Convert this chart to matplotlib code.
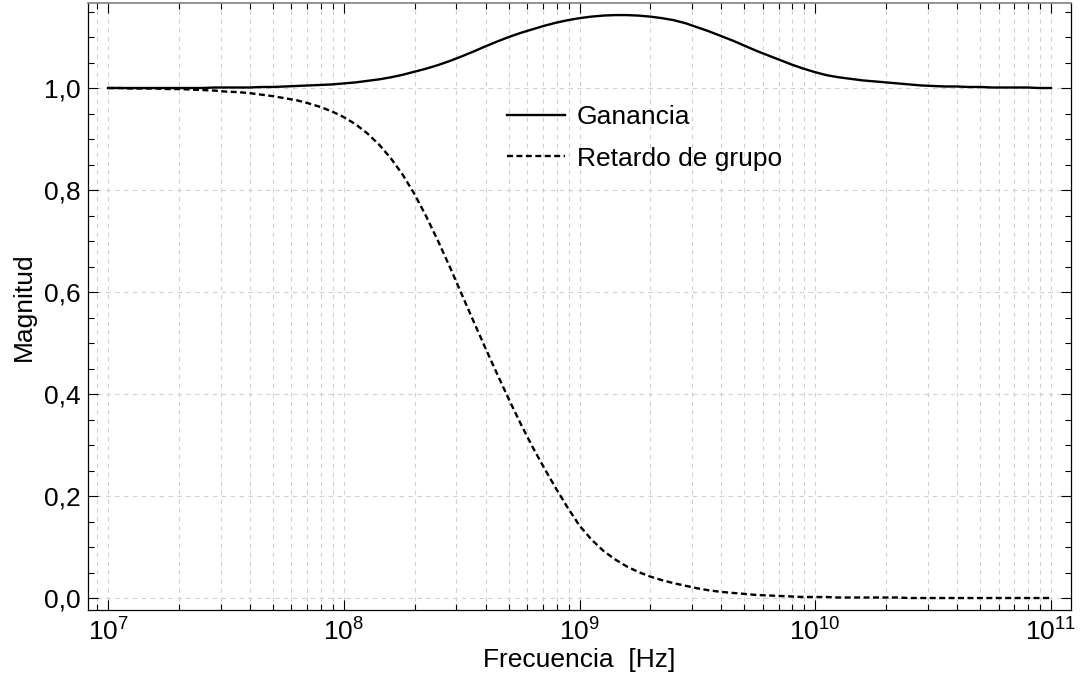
import numpy as np
import matplotlib
matplotlib.use("Agg")
import matplotlib.pyplot as plt
from matplotlib.ticker import FixedLocator, MultipleLocator, FixedFormatter, LogLocator

plt.rcParams['font.family'] = ['Liberation Sans', 'DejaVu Sans']
plt.rcParams['mathtext.fontset'] = 'custom'
plt.rcParams['mathtext.rm'] = 'Liberation Sans'
plt.rcParams['mathtext.it'] = 'Liberation Sans:italic'
plt.rcParams['mathtext.bf'] = 'Liberation Sans:bold'

# log10 of frequency (Hz), sampled every 0.05 decade from 1e7 to 1e11
log_freq = [7.00, 7.05, 7.10, 7.15, 7.20, 7.25, 7.30, 7.35, 7.40, 7.45,
            7.50, 7.55, 7.60, 7.65, 7.70, 7.75, 7.80, 7.85, 7.90, 7.95,
            8.00, 8.05, 8.10, 8.15, 8.20, 8.25, 8.30, 8.35, 8.40, 8.45,
            8.50, 8.55, 8.60, 8.65, 8.70, 8.75, 8.80, 8.85, 8.90, 8.95,
            9.00, 9.05, 9.10, 9.15, 9.20, 9.25, 9.30, 9.35, 9.40, 9.45,
            9.50, 9.55, 9.60, 9.65, 9.70, 9.75, 9.80, 9.85, 9.90, 9.95,
            10.00, 10.05, 10.10, 10.15, 10.20, 10.25, 10.30, 10.35, 10.40, 10.45,
            10.50, 10.55, 10.60, 10.65, 10.70, 10.75, 10.80, 10.85, 10.90, 10.95,
            11.00]

ganancia = [1.000, 1.000, 1.000, 1.000, 1.000, 1.000, 1.000, 1.000, 1.000, 1.001,
            1.001, 1.001, 1.001, 1.002, 1.002, 1.003, 1.004, 1.005, 1.006, 1.007,
            1.009, 1.011, 1.014, 1.017, 1.021, 1.026, 1.032, 1.038, 1.045, 1.053,
            1.062, 1.0715, 1.0815, 1.091, 1.100, 1.108, 1.115, 1.122, 1.128, 1.133,
            1.137, 1.140, 1.142, 1.143, 1.143, 1.142, 1.140, 1.137, 1.133, 1.127,
            1.119, 1.111, 1.102, 1.093, 1.083, 1.073, 1.064, 1.055, 1.046, 1.038,
            1.031, 1.025, 1.021, 1.018, 1.015, 1.013, 1.011, 1.009, 1.007, 1.005,
            1.004, 1.003, 1.003, 1.002, 1.002, 1.001, 1.001, 1.001, 1.001, 1.000,
            1.000]

retardo = [1.000, 1.000, 0.999, 0.999, 0.999, 0.998, 0.998, 0.997, 0.996, 0.995,
           0.993, 0.992, 0.990, 0.987, 0.984, 0.980, 0.976, 0.970, 0.963, 0.954,
           0.943, 0.929, 0.911, 0.889, 0.862, 0.830, 0.792, 0.748, 0.700, 0.649,
           0.596, 0.543, 0.491, 0.440, 0.390, 0.342, 0.297, 0.255, 0.215, 0.177,
           0.142, 0.115, 0.093, 0.076, 0.062, 0.051, 0.042, 0.035, 0.029, 0.024,
           0.019, 0.015, 0.012, 0.010, 0.008, 0.006, 0.005, 0.004, 0.003, 0.002,
           0.002, 0.002, 0.001, 0.001, 0.001, 0.001, 0.001, 0.001, 0.000, 0.000,
           0.000, 0.000, 0.000, 0.000, 0.000, 0.000, 0.000, 0.000, 0.000, 0.000,
           0.000]

y_ticks = [0.0, 0.2, 0.4, 0.6, 0.8, 1.0]
y_tick_labels = ["0,0", "0,2", "0,4", "0,6", "0,8", "1,0"]
series_labels = ["Ganancia", "Retardo de grupo"]

freq = 10.0 ** np.array(log_freq)

W, H = 1081, 685
fig = plt.figure(figsize=(W / 100, H / 100), dpi=100)
ax = fig.add_axes([88 / W, (H - 610) / H, 983 / W, 607 / H])

FS = 19
LW = 1.7
ax.plot(freq, ganancia, color='black', lw=LW, label=series_labels[0])
ax.plot(freq, retardo, color='black', lw=LW,
        dashes=(4.3 / LW, 2.5 / LW), label=series_labels[1])

ax.set_xscale('log')
ax.set_xlim(10 ** 6.915, 10 ** 11.085)
ax.set_ylim(-0.0235, 1.1667)

ax.xaxis.set_major_locator(LogLocator(base=10, numticks=10))
ax.xaxis.set_minor_locator(LogLocator(base=10, subs=np.arange(2, 10), numticks=20))
ax.yaxis.set_major_locator(FixedLocator(y_ticks))
ax.yaxis.set_major_formatter(FixedFormatter(y_tick_labels))
ax.yaxis.set_minor_locator(MultipleLocator(0.05))

ax.tick_params(axis='both', which='both', direction='in', top=True, right=True,
               labelsize=FS, color='black', width=0.8)
ax.tick_params(axis='both', which='major', length=7, pad=5)
ax.tick_params(axis='both', which='minor', length=4)
ax.tick_params(axis='x', which='major', pad=6)

ax.grid(True, which='both', axis='x', color='#d0d0d0', lw=0.8, dashes=(4, 4))
ax.grid(True, which='major', axis='y', color='#d0d0d0', lw=0.8, dashes=(4, 4))
ax.set_axisbelow(True)

for side in ['left', 'bottom', 'right']:
    ax.spines[side].set_color('black')
    ax.spines[side].set_linewidth(0.9)
ax.spines['top'].set_color('#808080')
ax.spines['top'].set_linewidth(1.2)

ax.set_xlabel("Frecuencia  [Hz]", fontsize=FS, labelpad=2)
ax.set_ylabel("Magnitud", fontsize=FS, labelpad=6)

leg = ax.legend(loc='upper left', bbox_to_anchor=(0.4263, 0.832), frameon=False,
                fontsize=FS, borderaxespad=0, borderpad=0, handlelength=2.2,
                handletextpad=0.45, labelspacing=0.67)

fig.savefig("out.png", dpi=100)
